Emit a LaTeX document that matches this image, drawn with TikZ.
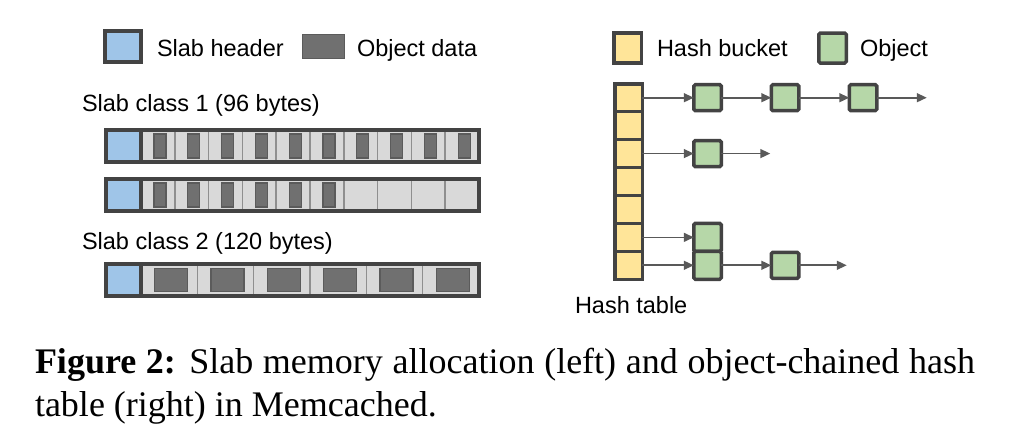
\documentclass[tikz,border=0pt]{standalone}
\usepackage{fontspec}
\setmainfont{Liberation Serif}
\newfontfamily\labelfont{Liberation Sans}
\usetikzlibrary{arrows.meta}

\definecolor{slabblue}{HTML}{9FC5E8}
\definecolor{bucketyellow}{HTML}{FFE599}
\definecolor{objgreen}{HTML}{B6D7A8}
\definecolor{celllight}{HTML}{D9D9D9}
\definecolor{objdark}{HTML}{707070}
\definecolor{objedge}{HTML}{5B5B5B}
\definecolor{borderdark}{HTML}{434343}
\definecolor{dividergray}{HTML}{8F8F8F}
\definecolor{arrowgray}{HTML}{595959}

\begin{document}
\begin{tikzpicture}
    [x=1pt,y=-1pt,
     every node/.style={inner sep=0pt,outer sep=0pt},
     lbl/.style={anchor=base west,font=\labelfont\fontsize{23.5}{28}\selectfont},
     hdr/.style={draw=borderdark,line width=3.5pt,fill=slabblue,minimum width=35pt,minimum height=32pt},
     cellbox/.style={draw=dividergray,line width=1.5pt,fill=celllight,minimum height=32pt},
     objsmall/.style={draw=objedge,line width=1.2pt,fill=objdark},
     bucket/.style={draw=borderdark,line width=3.5pt,fill=bucketyellow,minimum width=27.5pt,minimum height=27.93pt},
     obj/.style={draw=borderdark,line width=3.5pt,fill=objgreen,rounded corners=1.5pt,minimum width=27.5pt,minimum height=26pt},
     link/.style={draw=arrowgray,line width=1.6pt,-{Triangle[length=10pt,width=9pt]}}]
    \useasboundingbox (0,0) rectangle (1014,440);

    % legend, left
    \node[hdr,minimum width=36pt,minimum height=31pt] (kslab) at (123,46.5) {};
    \node[lbl] (tslab) at (157,56) {Slab header};
    \node[objsmall,minimum width=42pt,minimum height=24pt] (kdata) at (323.5,46.5) {};
    \node[lbl] (tdata) at (357,56) {Object data};

    % slab class 1
    \node[lbl] (tclass1) at (82,111) {Slab class 1 (96 bytes)};
    \foreach \i in {1,...,10} {
      \node[cellbox,minimum width=33.8pt] (c1-\i) at (141+33.8*\i-16.9,146) {};
      \node[objsmall,minimum width=12pt,minimum height=24pt] (d1-\i) at ([xshift=2pt]c1-\i) {};
      \node[cellbox,minimum width=33.8pt] (c2-\i) at (141+33.8*\i-16.9,195) {};
    }
    \foreach \i in {1,...,6}
      \node[objsmall,minimum width=12pt,minimum height=24pt] (d2-\i) at ([xshift=2pt]c2-\i) {};
    \node[hdr] (h1) at (123.5,146) {};
    \node[hdr] (h2) at (123.5,195) {};
    \draw[borderdark,line width=3.5pt] (h1.north west) rectangle (c1-10.south east);
    \draw[borderdark,line width=3.5pt] (h2.north west) rectangle (c2-10.south east);

    % slab class 2
    \node[lbl] (tclass2) at (82,249) {Slab class 2 (120 bytes)};
    \foreach \i in {1,...,6} {
      \node[cellbox,minimum width=56.33pt] (c3-\i) at (141+56.33*\i-28.17,280) {};
      \node[objsmall,minimum width=33pt,minimum height=23pt] (d3-\i) at ([xshift=2pt]c3-\i) {};
    }
    \node[hdr] (h3) at (123.5,280) {};
    \draw[borderdark,line width=3.5pt] (h3.north west) rectangle (c3-6.south east);

    % legend, right
    \node[bucket,minimum height=30pt] (kbucket) at (627.5,48) {};
    \node[lbl] (tbucket) at (657,56.5) {Hash bucket};
    \node[obj,minimum height=30pt] (kobj) at (832.5,48) {};
    \node[lbl] (tobj) at (860,56.5) {Object};

    % hash table
    \foreach \i in {1,...,7}
      \node[bucket] (b\i) at (628.5,83.75+27.93*\i-13.97) {};
    \node[lbl] (ttable) at (575,313) {Hash table};

    \node[obj] (o11) at ([xshift=79pt]b1) {};
    \node[obj] (o12) at ([xshift=77.5pt]o11) {};
    \node[obj] (o13) at ([xshift=78pt]o12) {};
    \node[obj] (o31) at ([xshift=79pt]b3) {};
    \node[obj,minimum height=27.93pt] (o61) at ([xshift=79pt]b6) {};
    \node[obj,minimum height=27.93pt] (o71) at ([xshift=79pt]b7) {};
    \node[obj] (o72) at ([xshift=77.5pt]o71) {};
    \coordinate (e1) at ([xshift=50pt]o13.east);
    \coordinate (e3) at ([xshift=49pt]o31.east);
    \coordinate (e7) at ([xshift=48pt]o72.east);

    \draw[link] (b1.east) -- (o11.west);
    \draw[link] (o11.east) -- (o12.west);
    \draw[link] (o12.east) -- (o13.west);
    \draw[link] (o13.east) -- (e1);
    \draw[link] (b3.east) -- (o31.west);
    \draw[link] (o31.east) -- (e3);
    \draw[link] (b6.east) -- (o61.west);
    \draw[link] (b7.east) -- (o71.west);
    \draw[link] (o71.east) -- (o72.west);
    \draw[link] (o72.east) -- (e7);

    % caption
    \node[anchor=base west,font=\fontsize{36}{43}\selectfont] (cap1) at (35,373)
      {\makebox[940pt][s]{\textbf{Figure 2:} Slab memory allocation (left) and object-chained hash}};
    \node[anchor=base west,font=\fontsize{36}{43}\selectfont] (cap2) at (35,416)
      {table (right) in Memcached.};
\end{tikzpicture}
\end{document}
